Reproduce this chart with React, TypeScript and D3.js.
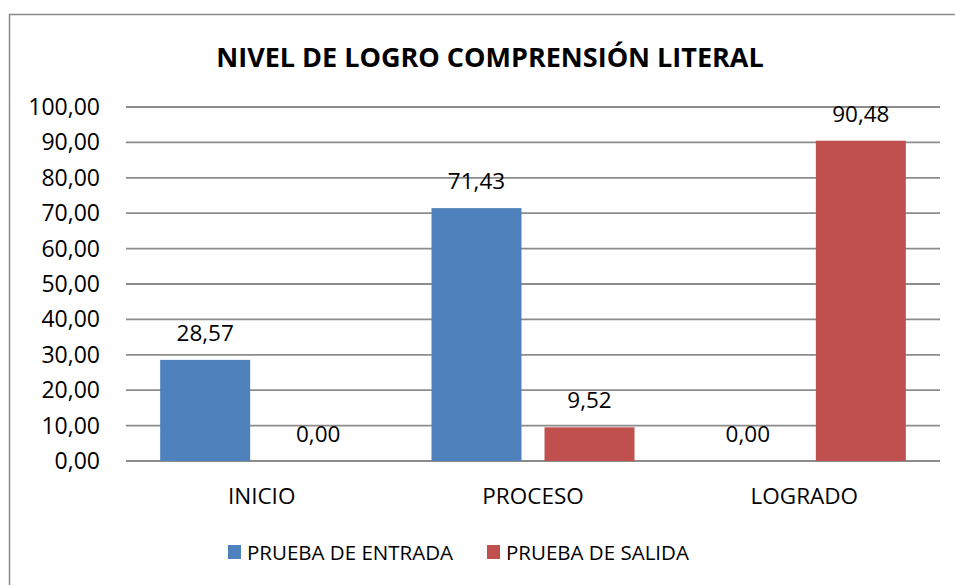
import React from "react";
import * as d3 from "d3";

const categories = ["INICIO", "PROCESO", "LOGRADO"];
const seriesNames = ["PRUEBA DE ENTRADA", "PRUEBA DE SALIDA"];
const entrada = [28.57, 71.43, 0.0];
const salida = [0.0, 9.52, 90.48];
const yTicks = [0, 10, 20, 30, 40, 50, 60, 70, 80, 90, 100];
const colors = ["#4F81BD", "#C0504D"];
const title = "NIVEL DE LOGRO COMPRENSIÓN LITERAL";

const W = 955;
const H = 585;
const FONT = "'Open Sans', sans-serif";

export default function App() {
  const plotLeft = 126;
  const plotRight = 940;
  const plotTop = 107;
  const plotBottom = 461;

  const x0 = d3.scaleBand<string>().domain(categories).range([plotLeft, plotRight]).padding(0);
  const bandW = x0.bandwidth();
  const groupW = 203;
  const x1 = d3
    .scaleBand<string>()
    .domain(seriesNames)
    .range([(bandW - groupW) / 2, (bandW + groupW) / 2])
    .paddingInner(23 / 113);
  const y = d3.scaleLinear().domain([0, 100]).range([plotBottom, plotTop]);
  const fmt = (v: number) => v.toFixed(2).replace(".", ",");
  const series = [entrada, salida];

  return (
    <svg width={W} height={H} style={{ position: "absolute", left: 0, top: 0, background: "#fff" }} fontFamily={FONT}>
      <rect x={9.5} y={14.5} width={950} height={600} fill="#fff" stroke="#8a8a8a" strokeWidth={1.5} />
      <text x={490} y={67} textAnchor="middle" fontSize={27} fontWeight="bold" fill="#000">{title}</text>
      {yTicks.map((t) => (
        <g key={t}>
          <line x1={plotLeft} x2={plotRight} y1={y(t)} y2={y(t)} stroke="#8c8c8c" strokeWidth={1.8} />
          <text x={100} y={y(t) + 8} textAnchor="end" fontSize={23} fill="#000">{fmt(t)}</text>
        </g>
      ))}
      {categories.map((c, i) => (
        <g key={c}>
          {series.map((s, j) => {
            const bx = (x0(c) ?? 0) + (x1(seriesNames[j]) ?? 0);
            const bw = x1.bandwidth();
            return (
              <g key={j}>
                <rect x={bx} y={y(s[i])} width={bw} height={plotBottom - y(s[i])} fill={colors[j]} />
                <text x={bx + bw / 2} y={y(s[i]) - 19} textAnchor="middle" fontSize={22.5} fill="#000">{fmt(s[i])}</text>
              </g>
            );
          })}
          <text x={(x0(c) ?? 0) + bandW / 2} y={504} textAnchor="middle" fontSize={22.5} fill="#000">{c}</text>
        </g>
      ))}
      {seriesNames.map((n, j) => {
        const lx = [228, 487][j];
        return (
          <g key={n}>
            <rect x={lx} y={545} width={13} height={14} fill={colors[j]} />
            <text x={lx + 19} y={560} fontSize={20.5} fill="#000">{n}</text>
          </g>
        );
      })}
    </svg>
  );
}
